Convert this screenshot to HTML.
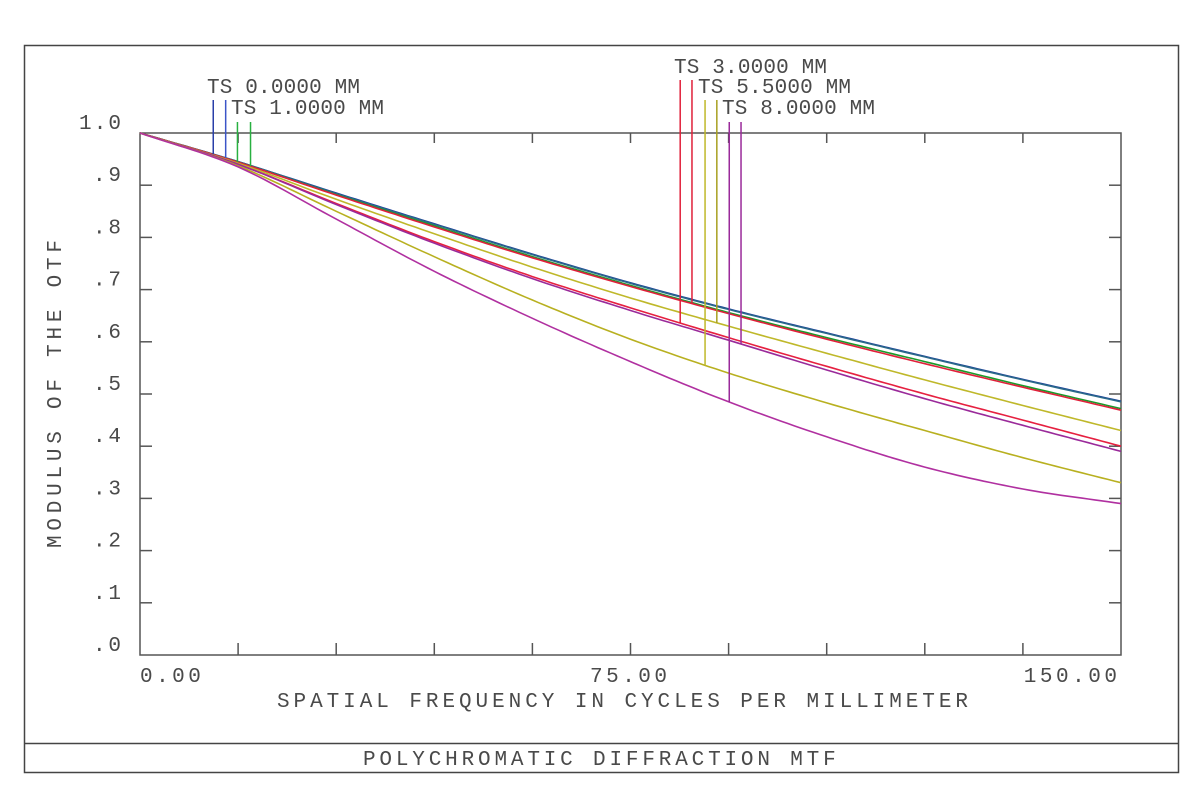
<!DOCTYPE html>
<html><head><meta charset="utf-8"><style>
body{margin:0;background:#fff;}
svg{display:block;font-family:"Liberation Mono","DejaVu Sans Mono",monospace;}
text{fill:#4a4a4a;font-size:21px;}
.wide{letter-spacing:4.3px;}
.mid{letter-spacing:0.2px;}
</style></head><body>
<svg width="1200" height="800">
<rect x="24.5" y="45.5" width="1154" height="727" fill="none" stroke="#444" stroke-width="1.5"/>
<line x1="24" y1="743.5" x2="1178" y2="743.5" stroke="#444" stroke-width="1.5"/>
<text x="363" y="765" class="wide" textLength="477" lengthAdjust="spacing">POLYCHROMATIC DIFFRACTION MTF</text>
<rect x="140" y="133" width="981" height="522" fill="none" stroke="#555" stroke-width="1.5"/>
<g id="axes"></g>
<g id="series"></g>
<g id="legend"></g>
<text x="277" y="707" textLength="691" lengthAdjust="spacing">SPATIAL FREQUENCY IN CYCLES PER MILLIMETER</text>
<text transform="translate(61,548) rotate(-90)" textLength="308" lengthAdjust="spacing">MODULUS OF THE OTF</text>
</svg>
<script>
const freqs=[0,15,30,45,60,75,90,105,120,135,150];
const blueT=[1,.945,.885,.826,.768,.713,.663,.617,.572,.528,.486];
const blueS=[1,.945,.884,.825,.767,.712,.662,.616,.571,.527,.485];
const greenT=[1,.944,.882,.822,.763,.708,.656,.608,.562,.516,.472];
const redS=[1,.944,.881,.82,.761,.706,.654,.605,.558,.513,.469];
const yellowS=[1,.942,.873,.807,.743,.684,.63,.578,.527,.478,.43];
const redT=[1,.94,.865,.792,.725,.665,.608,.553,.50,.45,.40];
const purpleS=[1,.94,.863,.789,.721,.66,.603,.546,.491,.44,.39];
const yellowT=[1,.937,.85,.763,.68,.605,.54,.483,.43,.378,.33];
const purpleT=[1,.935,.835,.735,.645,.562,.485,.418,.36,.318,.29];
const xTickVals=[0,15,30,45,60,75,90,105,120,135,150];
const xLabels=["0.00","75.00","150.00"];
const xLabelVals=[0,75,150];
const yTicks=[0,.1,.2,.3,.4,.5,.6,.7,.8,.9,1];
const yLabels=[".0",".1",".2",".3",".4",".5",".6",".7",".8",".9","1.0"];
const legendLabels=["TS 0.0000 MM","TS 1.0000 MM","TS 3.0000 MM","TS 5.5000 MM","TS 8.0000 MM"];
const markerFreqs=[11.2,13.1,14.9,16.9,82.6,84.4,86.4,88.2,90.1,91.9];

const X=f=>140+f*981/150, Y=v=>655-v*522;
const NS="http://www.w3.org/2000/svg";
function mk(t,a,p){const e=document.createElementNS(NS,t);for(const k in a)e.setAttribute(k,a[k]);p.appendChild(e);return e;}
const ax=document.getElementById('axes');
xTickVals.forEach((f,i)=>{
 if(i==0||i==xTickVals.length-1)return;
 const l=mk('line',{x1:X(f),x2:X(f),y1:655,y2:643,stroke:'#555','stroke-width':1.5},ax);
 
 
 const l2=mk('line',{x1:X(f),x2:X(f),y1:133,y2:143,stroke:'#555','stroke-width':1.5},ax);
 
 
});
xLabelVals.forEach((f,i)=>{
 const w=xLabels[i].length*16.2;
 let x0=i==0?X(f):(i==xLabelVals.length-1?X(f)-w:X(f)-w/2);
 const t=mk('text',{x:x0,y:682,textLength:w-4,lengthAdjust:'spacing'},ax);
 t.textContent=xLabels[i];
 
 
});
yTicks.forEach((v,i)=>{
 if(i>0&&i<yTicks.length-1){
 const l=mk('line',{x1:140,x2:152,y1:Y(v),y2:Y(v),stroke:'#555','stroke-width':1.5},ax);
 
 
 const r=mk('line',{x1:1109,x2:1121,y1:Y(v),y2:Y(v),stroke:'#555','stroke-width':1.5},ax);
 
 }
 const w=yLabels[i].length*14;
 const t=mk('text',{x:121-w,y:Y(v)-4,textLength:w,lengthAdjust:'spacing'},ax);
 t.textContent=yLabels[i];
 
 
});
const series=[[blueT,'#1a3a9a'],[blueS,'#2a6a8a'],[greenT,'#1a9a2a'],[redS,'#e0203a'],[yellowS,'#bfb82a'],[redT,'#e62040'],[purpleS,'#9a2a9a'],[yellowT,'#b8b020'],[purpleT,'#b030a0']];
function interp(arr,f){const step=freqs[1]-freqs[0];let i=Math.min(Math.floor(f/step),freqs.length-2);const t=(f-freqs[i])/step;
 const p0=i>0?arr[i-1]:2*arr[0]-arr[1],p1=arr[i],p2=arr[i+1],p3=i+2<arr.length?arr[i+2]:2*arr[i+1]-arr[i];
 return 0.5*((2*p1)+(-p0+p2)*t+(2*p0-5*p1+4*p2-p3)*t*t+(-p0+3*p1-3*p2+p3)*t*t*t);}
const sg=document.getElementById('series');
series.forEach(([arr,c])=>{let d='';for(let f=0;f<=150;f+=1)d+=(f?'L':'M')+X(f).toFixed(1)+' '+Y(interp(arr,f)).toFixed(1);
 const p=mk('path',{d:d,fill:'none',stroke:c,'stroke-width':1.6},sg);
 
 });
const lg=document.getElementById('legend');
const markerArrs=[blueT,blueS,greenT,greenT,redT,redS,yellowT,yellowS,purpleT,purpleS];
const markerCols=['#2a3fa8','#3b55c8','#28b040','#28b040','#e0203a','#e0203a','#bfb82a','#a8a020','#9a2a9a','#9a2a9a'];
const markerTops=[100,100,122,122,80,80,100,100,122,122];
markerFreqs.forEach((f,i)=>{
 const l=mk('line',{x1:X(f),x2:X(f),y1:markerTops[i],y2:Y(interp(markerArrs[i],f)),stroke:markerCols[i],'stroke-width':1.5},lg);
 
 
});
const legendPos=[[207,93],[231,114],[674,73],[698,93],[722,114]];
legendLabels.forEach((s,i)=>{
 const t=mk('text',{x:legendPos[i][0],y:legendPos[i][1],textLength:153,lengthAdjust:'spacing'},lg);
 t.textContent=s;
 
 
});
</script>
</body></html>
